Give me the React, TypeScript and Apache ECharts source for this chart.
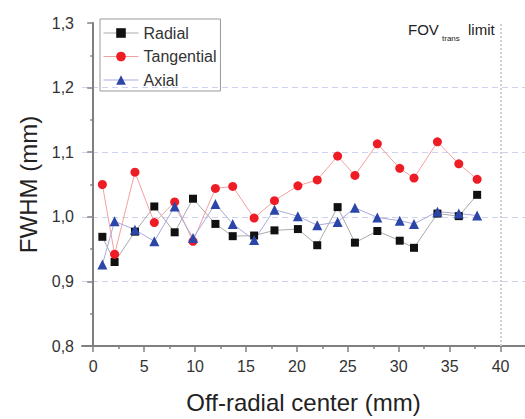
import React, { useEffect, useRef } from "react";
import * as echarts from "echarts";

const xValues = [0.9, 2.1, 4.1, 6.0, 8.0, 9.8, 12.0, 13.7, 15.8, 17.8, 20.1, 22.0, 24.0, 25.7, 27.9, 30.1, 31.5, 33.8, 35.9, 37.7];
const radial = [0.969, 0.930, 0.977, 1.016, 0.976, 1.028, 0.989, 0.970, 0.971, 0.979, 0.981, 0.956, 1.015, 0.960, 0.978, 0.963, 0.952, 1.005, 1.001, 1.034];
const tangential = [1.050, 0.942, 1.069, 0.991, 1.023, 0.962, 1.044, 1.047, 0.998, 1.025, 1.048, 1.057, 1.094, 1.064, 1.113, 1.075, 1.060, 1.116, 1.082, 1.058];
const axial = [0.926, 0.993, 0.980, 0.962, 1.016, 0.967, 1.020, 0.989, 0.964, 1.011, 1.001, 0.987, 0.992, 1.014, 0.999, 0.994, 0.989, 1.008, 1.005, 1.002];
const xMajorTicks = [0, 5, 10, 15, 20, 25, 30, 35, 40];
const xMinorTicks = [2.5, 7.5, 12.5, 17.5, 22.5, 27.5, 32.5, 37.5];
const fovLimit = 40;

const FONT = "Liberation Sans, Arial, sans-serif";
const LINE_COLORS = { Radial: "#aaaaaa", Tangential: "#f5a0a0", Axial: "#a9a9dd" };

export default function App() {
  const ref = useRef<HTMLDivElement>(null);
  useEffect(() => {
    document.body.style.margin = "0";
    if (!ref.current) return;
    const chart = echarts.init(ref.current, undefined, { renderer: "svg" });
    const pair = (ys: number[]) => xValues.map((x, i) => [x, ys[i]]);
    chart.setOption({
      animation: false,
      textStyle: { fontFamily: FONT },
      grid: { left: 82, right: 0, top: 23, bottom: 71, containLabel: false },
      legend: {
        orient: "vertical",
        left: 100,
        top: 19,
        padding: [6, 4, 3, 3],
        itemGap: 7.5,
        itemWidth: 35,
        itemHeight: 12,
        borderColor: "#9a9a9a",
        borderWidth: 1,
        textStyle: { fontSize: 16, color: "#333", fontFamily: FONT },
        data: [
          { name: "Radial", lineStyle: { color: LINE_COLORS.Radial, width: 1 } },
          { name: "Tangential", lineStyle: { color: LINE_COLORS.Tangential, width: 1 } },
          { name: "Axial", lineStyle: { color: LINE_COLORS.Axial, width: 1 } },
        ],
      },
      xAxis: [
        {
          type: "value",
          min: -1.1,
          max: 42.4,
          position: "bottom",
          name: "Off-radial center (mm)",
          nameLocation: "middle",
          nameGap: 44,
          nameTextStyle: { fontSize: 24, color: "#222", fontFamily: FONT },
          axisLine: { show: true, lineStyle: { color: "#808080", width: 2 } },
          axisTick: { show: true, length: 6, customValues: xMajorTicks, lineStyle: { color: "#808080", width: 1.5 } },
          axisLabel: { show: true, customValues: xMajorTicks, fontSize: 16, color: "#333", margin: 12, fontFamily: FONT },
          splitLine: { show: false },
        },
        {
          type: "value",
          min: -1.1,
          max: 42.4,
          position: "bottom",
          offset: 0,
          axisLine: { show: false },
          axisTick: { show: true, length: 3, customValues: xMinorTicks, lineStyle: { color: "#808080", width: 1.5 } },
          axisLabel: { show: false },
          splitLine: { show: false },
        },
      ],
      yAxis: {
        type: "value",
        min: 0.8,
        max: 1.3,
        interval: 0.1,
        name: "FWHM (mm)",
        nameLocation: "middle",
        nameGap: 42,
        nameTextStyle: { fontSize: 24, color: "#222", fontFamily: FONT },
        axisLine: { show: true, lineStyle: { color: "#808080", width: 2 } },
        axisTick: { show: true, length: 6, lineStyle: { color: "#808080", width: 1.5 } },
        minorTick: { show: true, splitNumber: 2, length: 3, lineStyle: { color: "#808080", width: 1.5 } },
        axisLabel: {
          fontSize: 16,
          color: "#333",
          margin: 8,
          fontFamily: FONT,
          formatter: (v: number) => v.toFixed(1).replace(".", ","),
        },
        splitLine: {
          show: true,
          showMinLine: false,
          showMaxLine: false,
          lineStyle: { color: "#cdd2f0", type: [6, 4], width: 1 },
        },
      },
      graphic: [
        { type: "text", left: 408, top: 22, style: { text: "FOV", fontSize: 15, fill: "#222", fontFamily: FONT } },
        { type: "text", left: 442, top: 34, style: { text: "trans", fontSize: 8, fill: "#222", fontFamily: FONT } },
        { type: "text", left: 468, top: 22, style: { text: "limit", fontSize: 15, fill: "#222", fontFamily: FONT } },
      ],
      series: [
        {
          name: "Radial",
          type: "line",
          data: pair(radial),
          symbol: "rect",
          symbolSize: 8,
          itemStyle: { color: "#111111" },
          lineStyle: { color: LINE_COLORS.Radial, width: 1 },
          markLine: {
            silent: true,
            symbol: "none",
            label: { show: false },
            lineStyle: { color: "#d0d0d0", type: "dotted", width: 2 },
            data: [{ xAxis: fovLimit }],
          },
        },
        {
          name: "Tangential",
          type: "line",
          data: pair(tangential),
          symbol: "circle",
          symbolSize: 9,
          itemStyle: { color: "#ee1c25" },
          lineStyle: { color: LINE_COLORS.Tangential, width: 1 },
        },
        {
          name: "Axial",
          type: "line",
          data: pair(axial),
          symbol: "triangle",
          symbolSize: 10,
          itemStyle: { color: "#2b46a8" },
          lineStyle: { color: LINE_COLORS.Axial, width: 1 },
        },
      ],
    });
    return () => chart.dispose();
  }, []);
  return <div ref={ref} style={{ width: 525, height: 419 }} />;
}
